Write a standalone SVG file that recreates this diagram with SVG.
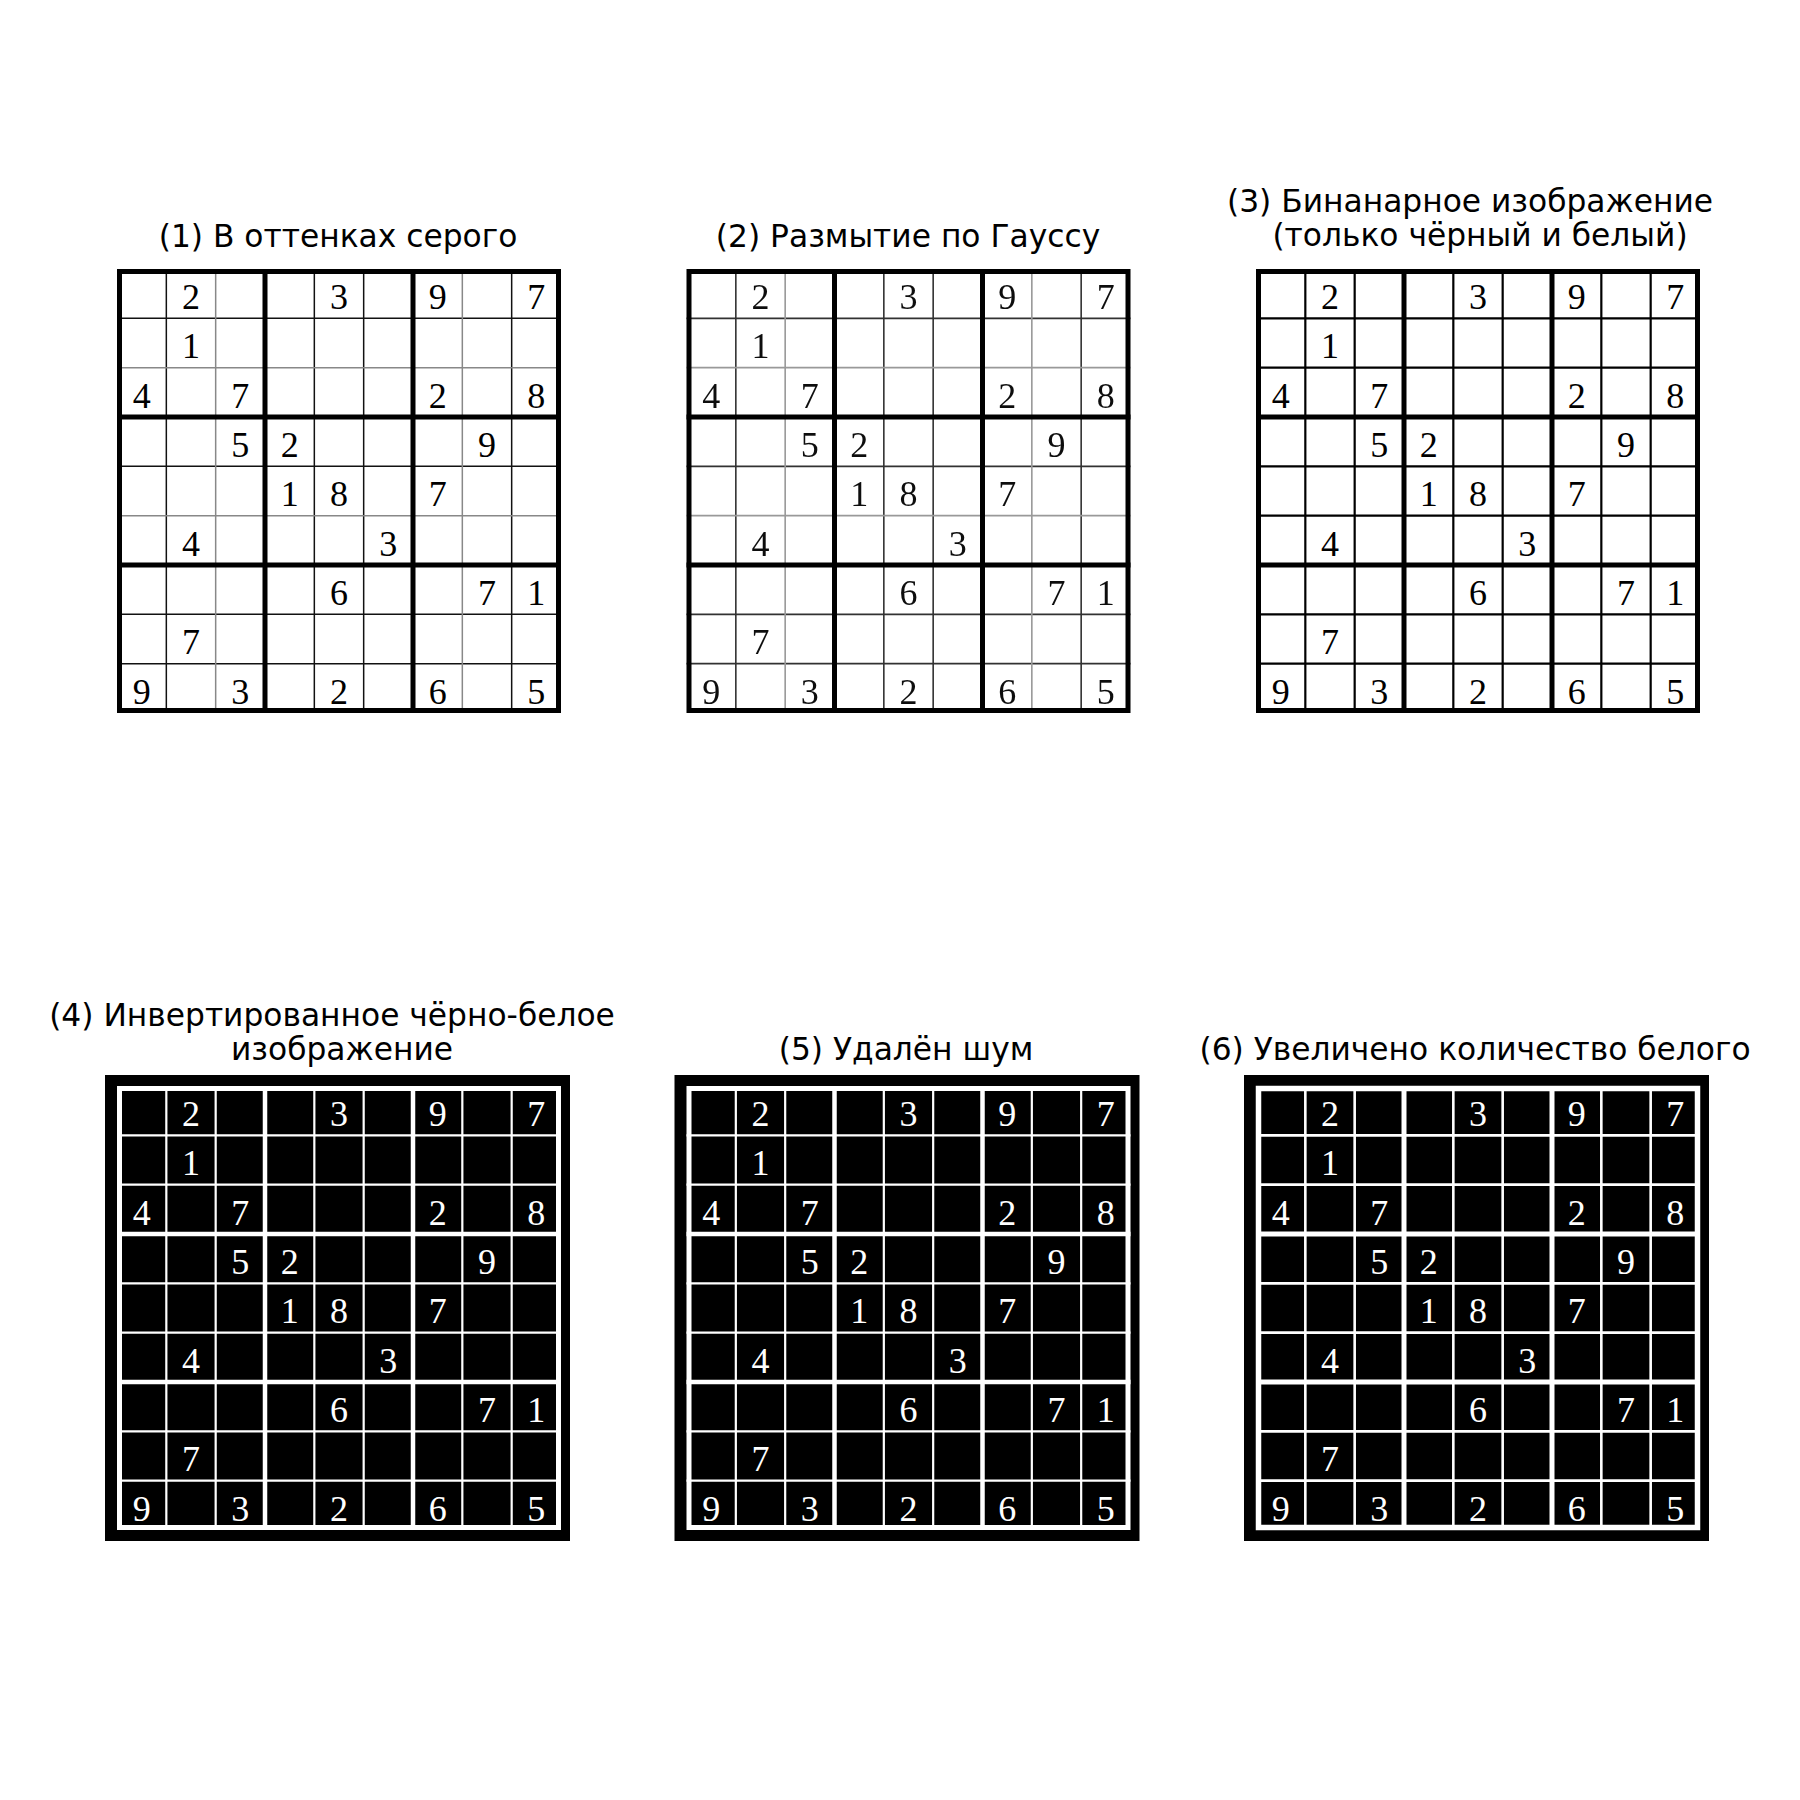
<svg xmlns="http://www.w3.org/2000/svg" xmlns:xlink="http://www.w3.org/1999/xlink" width="1800" height="1800" viewBox="0 0 1800 1800">
<style>
.title{font-family:"DejaVu Sans",sans-serif;font-size:31.3px;fill:#000;text-anchor:middle}
.dig text{font-family:"Liberation Serif","Times New Roman",serif;font-size:36px;text-anchor:middle}
</style>
<defs>
<filter id="blur" x="-5%" y="-5%" width="110%" height="110%"><feGaussianBlur stdDeviation="0.7"/></filter>
<path id="thinA" d="M49.33 0V444M197.33 0V444M246.67 0V444M394.67 0V444M0 49.33H444M0 197.33H444M0 345.33H444M0 394.67H444" fill="none"/>
<path id="thinB" d="M98.67 0V444M345.33 0V444M0 98.67H444M0 246.67H444" fill="none"/>
<path id="thick" d="M148 0V444M296 0V444M0 148H444M0 296H444" fill="none"/>
<rect id="border" x="2.5" y="2.5" width="439" height="439" fill="none"/>
<g id="digits" class="dig">
<text x="74" y="40">2</text><text x="222" y="40">3</text><text x="320.7" y="40">9</text><text x="419.3" y="40">7</text>
<text x="74" y="89.3">1</text>
<text x="24.7" y="138.7">4</text><text x="123.3" y="138.7">7</text><text x="320.7" y="138.7">2</text><text x="419.3" y="138.7">8</text>
<text x="123.3" y="188">5</text><text x="172.7" y="188">2</text><text x="370" y="188">9</text>
<text x="172.7" y="237.3">1</text><text x="222" y="237.3">8</text><text x="320.7" y="237.3">7</text>
<text x="74" y="286.7">4</text><text x="271.3" y="286.7">3</text>
<text x="222" y="336">6</text><text x="370" y="336">7</text><text x="419.3" y="336">1</text>
<text x="74" y="385.3">7</text>
<text x="24.7" y="434.7">9</text><text x="123.3" y="434.7">3</text><text x="222" y="434.7">2</text><text x="320.7" y="434.7">6</text><text x="419.3" y="434.7">5</text>
</g>
</defs>

<g id="panel1">
<text class="title" x="338" y="247">(1) В оттенках серого</text>
<g transform="translate(117,269)">
<rect width="444" height="444" fill="#fff"/>
<use xlink:href="#thinA" stroke="#111" stroke-width="1.5"/>
<use xlink:href="#thinB" stroke="#888" stroke-width="1.5"/>
<use xlink:href="#thick" stroke="#000" stroke-width="5"/>
<use xlink:href="#border" stroke="#000" stroke-width="5"/>
<use xlink:href="#digits" fill="#000"/>
</g>
</g>

<g id="panel2">
<text class="title" x="908" y="247">(2) Размытие по Гауссу</text>
<g transform="translate(686.5,269)" filter="url(#blur)">
<rect width="444" height="444" fill="#fff"/>
<use xlink:href="#thinA" stroke="#333" stroke-width="1.6"/>
<use xlink:href="#thinB" stroke="#999" stroke-width="1.6"/>
<use xlink:href="#thick" stroke="#000" stroke-width="5"/>
<use xlink:href="#border" stroke="#000" stroke-width="5"/>
<use xlink:href="#digits" fill="#111"/>
</g>
</g>

<g id="panel3">
<text class="title" x="1470" y="212">(3) Бинанарное изображение</text>
<text class="title" x="1480" y="246">(только чёрный и белый)</text>
<g transform="translate(1256,269)">
<rect width="444" height="444" fill="#fff"/>
<use xlink:href="#thinA" stroke="#000" stroke-width="2.2"/>
<use xlink:href="#thinB" stroke="#000" stroke-width="2.2"/>
<use xlink:href="#thick" stroke="#000" stroke-width="5"/>
<use xlink:href="#border" stroke="#000" stroke-width="5"/>
<use xlink:href="#digits" fill="#000"/>
</g>
</g>

<g id="panel4">
<text class="title" x="332" y="1026">(4) Инвертированное чёрно-белое</text>
<text class="title" x="342" y="1060">изображение</text>
<g transform="translate(117,1086)">
<rect x="-12" y="-11" width="465" height="466" fill="#000"/>
<use xlink:href="#thinA" stroke="#fff" stroke-width="2.2"/>
<use xlink:href="#thinB" stroke="#fff" stroke-width="2.2"/>
<use xlink:href="#thick" stroke="#fff" stroke-width="4.5"/>
<use xlink:href="#border" stroke="#fff" stroke-width="5"/>
<use xlink:href="#digits" fill="#fff"/>
</g>
</g>

<g id="panel5">
<text class="title" x="906" y="1060">(5) Удалён шум</text>
<g transform="translate(686.5,1086)">
<rect x="-12" y="-11" width="465" height="466" fill="#000"/>
<use xlink:href="#thinA" stroke="#fff" stroke-width="2.2"/>
<use xlink:href="#thinB" stroke="#fff" stroke-width="2.2"/>
<use xlink:href="#thick" stroke="#fff" stroke-width="4.5"/>
<use xlink:href="#border" stroke="#fff" stroke-width="5"/>
<use xlink:href="#digits" fill="#fff"/>
</g>
</g>

<g id="panel6">
<text class="title" x="1475" y="1060">(6) Увеличено количество белого</text>
<g transform="translate(1256,1086)">
<rect x="-12" y="-11" width="465" height="466" fill="#000"/>
<use xlink:href="#thinA" stroke="#fff" stroke-width="2.6"/>
<use xlink:href="#thinB" stroke="#fff" stroke-width="2.6"/>
<use xlink:href="#thick" stroke="#fff" stroke-width="5"/>
<use xlink:href="#border" stroke="#fff" stroke-width="5.5"/>
<use xlink:href="#digits" fill="#fff"/>
</g>
</g>

<g id="connectors"/>
</svg>
